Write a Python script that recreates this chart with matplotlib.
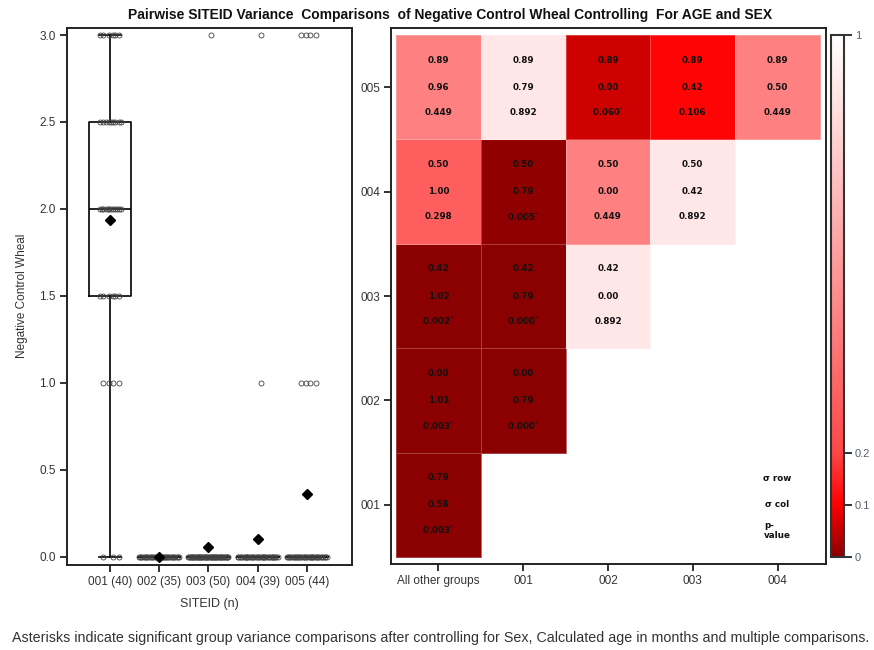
import numpy as np
import matplotlib
matplotlib.use('Agg')
import matplotlib.pyplot as plt
from matplotlib.colors import LinearSegmentedColormap

plt.rcParams['font.family'] = ['Liberation Sans', 'DejaVu Sans']

# Box plot data: how many subjects at each wheal value, per site
sites = ['001', '002', '003', '004', '005']
site_n = [40, 35, 50, 39, 44]
wheal_levels = [0.0, 1.0, 1.5, 2.0, 2.5, 3.0]
wheal_counts = [
    [3, 4, 6, 12, 9, 6],    # 001
    [35, 0, 0, 0, 0, 0],    # 002
    [49, 0, 0, 0, 0, 1],    # 003
    [37, 1, 0, 0, 0, 1],    # 004
    [36, 4, 0, 0, 0, 4],    # 005
]

# Pairwise variance comparison table (rows 001..005 bottom to top)
heat_rows = ['001', '002', '003', '004', '005']
heat_cols = ['All other groups', '001', '002', '003', '004']
sd_row = [
    [0.79, None, None, None, None],
    [0.00, 0.00, None, None, None],
    [0.42, 0.42, 0.42, None, None],
    [0.50, 0.50, 0.50, 0.50, None],
    [0.89, 0.89, 0.89, 0.89, 0.89],
]
sd_col = [
    [0.58, None, None, None, None],
    [1.01, 0.79, None, None, None],
    [1.02, 0.79, 0.00, None, None],
    [1.00, 0.79, 0.00, 0.42, None],
    [0.96, 0.79, 0.00, 0.42, 0.50],
]
p_val = [
    [0.003, None, None, None, None],
    [0.003, 0.000, None, None, None],
    [0.002, 0.000, 0.892, None, None],
    [0.298, 0.005, 0.449, 0.892, None],
    [0.449, 0.892, 0.060, 0.106, 0.449],
]
signif = [
    [True, None, None, None, None],
    [True, True, None, None, None],
    [True, True, False, None, None],
    [False, True, False, False, None],
    [False, False, True, False, False],
]

title = ('Pairwise SITEID Variance  Comparisons  of Negative Control Wheal '
         'Controlling  For AGE and SEX')
footnote = ('Asterisks indicate significant group variance comparisons after '
            'controlling for Sex, Calculated age in months and multiple comparisons.')

W, H = 874, 650
fig = plt.figure(figsize=(W / 100, H / 100), dpi=100)


def frac(x0, y0, x1, y1):
    # pixel box -> figure fraction [left, bottom, width, height]
    return [x0 / W, 1 - y1 / H, (x1 - x0) / W, (y1 - y0) / H]


ax1 = fig.add_axes(frac(67, 27.7, 352, 564.6))
ax2 = fig.add_axes(frac(391, 28, 826, 563.5))
cax = fig.add_axes(frac(831, 35, 844, 557))

dark = '#222222'
tick_col = '#333333'

# ---- left: box plot with jittered points ----
positions = np.arange(1, len(sites) + 1)
data = [np.repeat(wheal_levels, c) for c in wheal_counts]

ax1.boxplot(data, positions=positions, widths=0.86, whis=1.5,
            showfliers=False, showmeans=False, capwidths=0.45,
            boxprops=dict(color='black', linewidth=1.2),
            whiskerprops=dict(color='black', linewidth=1.2),
            capprops=dict(color='black', linewidth=1.2),
            medianprops=dict(color='black', linewidth=1.2),
            zorder=3)

golden = 0.6180339887
for pos, counts in zip(positions, wheal_counts):
    for level, c in zip(wheal_levels, counts):
        if c == 0:
            continue
        w = 0.25 if c < 20 else 0.42
        offs = np.array([(((i + 1) * golden) % 1) * 2 - 1 for i in range(c)]) * w
        ax1.plot(pos + offs, np.full(c, level), linestyle='none', marker='o',
                 markersize=3.6, markerfacecolor='none',
                 markeredgecolor='#444444', markeredgewidth=0.6, zorder=4)

# means on top
for pos, d in zip(positions, data):
    ax1.plot(pos, d.mean(), marker='D', color='black', markersize=5.5, zorder=6)

ax1.set_xlim(0.128, 5.913)
ax1.set_ylim(-0.044, 3.042)
ax1.set_xticks(positions)
ax1.set_xticklabels([f'{s} ({n})' for s, n in zip(sites, site_n)])
ax1.set_yticks([0, 0.5, 1.0, 1.5, 2.0, 2.5, 3.0])
ax1.set_yticklabels(['0.0', '0.5', '1.0', '1.5', '2.0', '2.5', '3.0'])
ax1.set_xlabel('SITEID (n)', fontsize=9, color=tick_col)
ax1.set_ylabel('Negative Control Wheal', fontsize=8.5, color=tick_col)
ax1.xaxis.set_label_coords(0.5, -0.062)
ax1.yaxis.set_label_coords(-0.137, 0.5)

# ---- right: p-value heatmap ----
pmat = np.array([[np.nan if v is None else v for v in r] for r in p_val])
cmap = LinearSegmentedColormap.from_list(
    'pv', [(0.0, '#8B0000'), (0.1, '#FF0000'), (0.2, '#FF4747'), (1.0, '#FFFFFF')])
xe = np.arange(len(heat_cols) + 1) - 0.5
ye = np.arange(len(heat_rows) + 1) - 0.5
mesh = ax2.pcolormesh(xe, ye, np.ma.masked_invalid(pmat), cmap=cmap,
                      vmin=0, vmax=1, edgecolors=(1, 1, 1, 0.25), linewidth=0.5)

cell_font = dict(fontsize=6.3, fontweight='bold', family='DejaVu Sans',
                 ha='center', va='center', color='#111111')
for r in range(len(heat_rows)):
    for c in range(len(heat_cols)):
        if p_val[r][c] is None:
            continue
        ptxt = f'{p_val[r][c]:.3f}' + (r'$^{*}$' if signif[r][c] else '')
        ax2.text(c, r + 0.26, f'{sd_row[r][c]:.2f}', **cell_font)
        ax2.text(c, r, f'{sd_col[r][c]:.2f}', **cell_font)
        ax2.text(c, r - 0.24, ptxt, **cell_font)

# key in the empty lower right cell
ax2.text(4, 0.25, '\u03c3 row', **cell_font)
ax2.text(4, 0.0, '\u03c3 col', **cell_font)
ax2.text(4, -0.25, 'p-\nvalue', multialignment='left', linespacing=1.15,
         **cell_font)

ax2.set_xlim(-0.559, 4.571)
ax2.set_ylim(-0.562, 4.567)
ax2.set_xticks(range(len(heat_cols)))
ax2.set_xticklabels(heat_cols)
ax2.set_yticks(range(len(heat_rows)))
ax2.set_yticklabels(heat_rows)

for ax in (ax1, ax2):
    for sp in ax.spines.values():
        sp.set_linewidth(1.4)
        sp.set_color(dark)
    ax.tick_params(direction='out', length=5, width=1.3, color=dark,
                   labelsize=8.5, labelcolor=tick_col, pad=3)

# ---- colorbar ----
cb = fig.colorbar(mesh, cax=cax, ticks=[0, 0.1, 0.2, 1])
cb.ax.set_yticklabels(['0', '0.1', '0.2', '1'])
cb.outline.set_linewidth(1.5)
cb.outline.set_edgecolor('#333333')
cb.ax.tick_params(direction='out', length=6, width=1.3, color=dark,
                  labelsize=8, labelcolor='#556070', pad=2)

fig.text(450 / W, 1 - 15 / H, title, ha='center', va='center',
         fontsize=10, fontweight='bold', color='#111111')
fig.text(12 / W, 1 - 638 / H, footnote, ha='left', va='center',
         fontsize=10.3, color='#333333')

fig.savefig('out.png', dpi=100)
